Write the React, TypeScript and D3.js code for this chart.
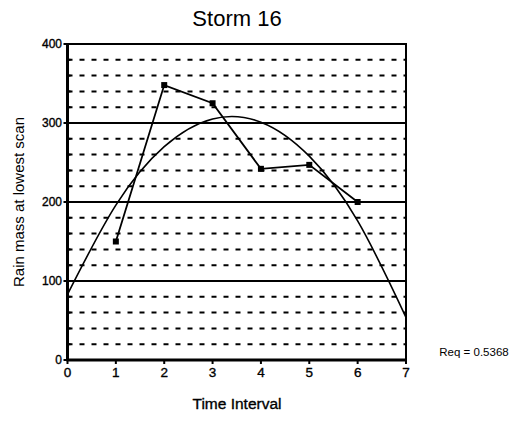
import React from 'react';
import * as d3 from 'd3';

const intervals = [1, 2, 3, 4, 5, 6];
const rainMass = [150, 348, 325, 242, 247, 200];
// polynomial trendline at each interval
const trendX = [0, 1, 2, 3, 4, 5, 6, 7];
const trendY = [83, 196, 270, 305, 301, 258, 176, 54];
const xTicks = [0, 1, 2, 3, 4, 5, 6, 7];
const yTicks = [0, 100, 200, 300, 400];
const yMinor = [20, 40, 60, 80, 120, 140, 160, 180, 220, 240, 260, 280, 320, 340, 360, 380];

const W = 514;
const H = 425;
const left = 67.5;
const right = 406;
const top = 44;
const bottom = 360;

const App: React.FC = () => {
  const x = d3.scaleLinear().domain([0, 7]).range([left, right]);
  const y = d3.scaleLinear().domain([0, 400]).range([bottom, top]);

  const pts = intervals.map((d, i) => ({ x: d, y: rainMass[i] }));
  const trend = trendX.map((d, i) => ({ x: d, y: trendY[i] }));

  const line = d3.line<{ x: number; y: number }>()
    .x((d) => x(d.x))
    .y((d) => y(d.y));
  const curve = d3.line<{ x: number; y: number }>()
    .x((d) => x(d.x))
    .y((d) => y(d.y))
    .curve(d3.curveNatural);

  const font = 'Arial, "Liberation Sans", Helvetica, sans-serif';
  // scanned text looks a little heavier
  const ink = { fill: '#000', stroke: '#000', strokeWidth: 0.35 };

  return (
    <svg width={W} height={H} style={{ position: 'absolute', left: 0, top: 0, background: '#fff' }} fontFamily={font}>
      <text x={237} y={26} textAnchor="middle" fontSize={22} fill="#000">Storm 16</text>

      {/* dashed minor grid */}
      {yMinor.map((v) => (
        <line key={'m' + v} x1={left} x2={right} y1={y(v)} y2={y(v)}
          stroke="#000" strokeWidth={2} strokeDasharray="5 7" />
      ))}
      {/* solid major grid */}
      {yTicks.filter((v) => v > 0 && v < 400).map((v) => (
        <line key={'g' + v} x1={left} x2={right} y1={y(v)} y2={y(v)} stroke="#000" strokeWidth={2} />
      ))}

      {/* frame */}
      <rect x={left} y={top} width={right - left} height={bottom - top} fill="none" stroke="#000" strokeWidth={2} />
      <line x1={left} x2={left} y1={top - 1} y2={bottom + 1} stroke="#000" strokeWidth={3} />
      <line x1={left - 1} x2={right + 1} y1={bottom} y2={bottom} stroke="#000" strokeWidth={3} />

      {/* y ticks */}
      {yTicks.map((v) => (
        <g key={'y' + v}>
          <line x1={left - 4} x2={left} y1={y(v)} y2={y(v)} stroke="#000" strokeWidth={2} />
          <text x={62} y={y(v) + 4} textAnchor="end" fontSize={12} {...ink}>{v}</text>
        </g>
      ))}
      {yMinor.map((v) => (
        <line key={'t' + v} x1={left} x2={left + 3} y1={y(v)} y2={y(v)} stroke="#000" strokeWidth={2} />
      ))}

      {/* x ticks */}
      {xTicks.map((v) => (
        <g key={'x' + v}>
          <line x1={x(v)} x2={x(v)} y1={bottom} y2={bottom + 4} stroke="#000" strokeWidth={2} />
          <text x={x(v)} y={377} textAnchor="middle" fontSize={13.5} {...ink}>{v}</text>
        </g>
      ))}

      {/* trendline */}
      <path d={curve(trend) || ''} fill="none" stroke="#000" strokeWidth={1.6} />

      {/* data */}
      <path d={line(pts) || ''} fill="none" stroke="#000" strokeWidth={1.8} />
      {pts.map((d, i) => (
        <rect key={'p' + i} x={x(d.x) - 3} y={y(d.y) - 3} width={6} height={6} fill="#000" />
      ))}

      <text x={237} y={409} textAnchor="middle" fontSize={15.5} {...ink}>Time Interval</text>
      <text transform={`translate(24,${(top + bottom) / 2}) rotate(-90)`} textAnchor="middle" fontSize={15} fill="#000">
        Rain mass at lowest scan
      </text>
      <text x={474} y={356} textAnchor="middle" fontSize={11.5} fill="#000">Req = 0.5368</text>
    </svg>
  );
};

export default App;
